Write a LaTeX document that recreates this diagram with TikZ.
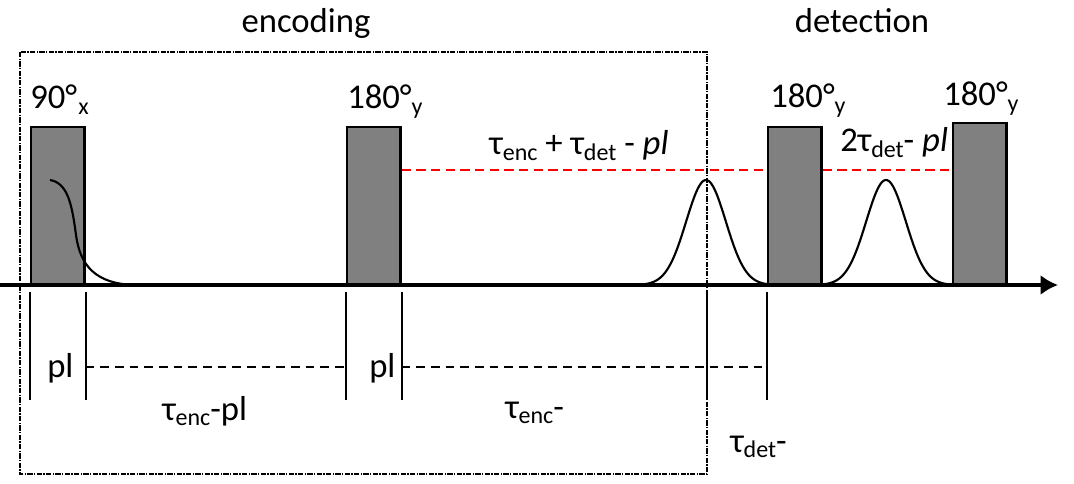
\documentclass[tikz,border=0pt]{standalone}
\usepackage{fontspec}
\setmainfont{Carlito}
\usetikzlibrary{arrows.meta}
\newcommand{\lo}[1]{\raisebox{-4pt}{\fontsize{18}{20}\selectfont #1}}

\begin{document}
\begin{tikzpicture}[x=0.75pt,y=-0.75pt,
	font=\fontsize{26}{30}\selectfont,
	lbl/.style={anchor=base west, inner sep=0pt},
	pulse/.style={draw, line width=1.8pt, fill=black!50, anchor=south west, inner sep=0pt, minimum width=40pt},
	tickline/.style={line width=1.8pt},
	guide/.style={line width=1.4pt, dash pattern=on 6.5pt off 4.5pt},
	redline/.style={red, line width=1.9pt, dash pattern=on 7pt off 4pt},
	boxline/.style={line width=1.3pt, dash pattern=on 4pt off 1pt on 1pt off 1pt},
	signal/.style={line width=1.6pt}]
	\useasboundingbox (0,0) rectangle (1074,484);
	%
	\draw[boxline] (20,52) rectangle (707,474);
	\node[anchor=base] (enc) at (306,33) {encoding};
	\node[anchor=base] (det) at (862,33) {detection};
	%
	\coordinate (o) at (0,285);
	\coordinate (end) at (1058,285);
	\coordinate (e1) at (707,285);
	\coordinate (red) at (0,170);
	\coordinate (row) at (0,367);
	\draw[line width=2.4pt,-{Latex[length=13pt,width=15pt]}] (o) -- (end);
	%
	\node[pulse, minimum height=117.75pt] (p1) at (30,285) {};
	\node[pulse, minimum height=117.75pt] (p2) at (346,285) {};
	\node[pulse, minimum height=117.75pt] (p3) at (767,285) {};
	\node[pulse, minimum height=120.75pt] (p4) at (952,285) {};
	%
	\node[lbl] (l1) at (30,109) {90°\kern1pt\lo{x}};
	\node[lbl] (l2) at (347,109) {180°\lo{y}};
	\node[lbl] (l3) at (770,108) {180°\lo{y}};
	\node[lbl] (l4) at (943,106) {180°\lo{y}};
	%
	\draw[signal] (50,180) .. controls (68,183) and (72,205) .. (76,235)
		.. controls (80,265) and (95,284) .. (135,285);
	\draw[signal] plot[domain=600:767, samples=90, smooth] (\x,{285-105*exp(-((\x-706)/28)^2)});
	\draw[signal] plot[domain=821:952, samples=90, smooth] (\x,{285-105*exp(-((\x-886)/28)^2)});
	%
	\draw[redline] (p2.east |- red) -- (p3.west |- red);
	\draw[redline] (p3.east |- red) -- (p4.west |- red);
	\node[anchor=base, inner sep=0pt] (r1) at (579,155) {τ\lo{enc} + τ\lo{det} - \textit{pl}};
	\node[lbl] (r2) at (840,152) {2τ\lo{det}- \textit{pl}};
	%
	\foreach \t in {p1.south west, p1.south east, p2.south west, p2.south east, e1, p3.south west}
		\draw[tickline] ([yshift=-5.25pt]\t) -- ++(0,108);
	\draw[guide] (p1.south east |- row) -- (p2.south west |- row);
	\draw[guide] (p2.south east |- row) -- (p3.south west |- row);
	%
	\node[lbl] (pl1) at (47,378) {pl};
	\node[lbl] (pl2) at (369,378) {pl};
	\node[lbl] (d1) at (162,420) {τ\lo{enc}-pl};
	\node[lbl] (d2) at (505,418) {τ\lo{enc}-};
	\node[lbl] (d3) at (730,452) {τ\lo{det}-};
\end{tikzpicture}
\end{document}
